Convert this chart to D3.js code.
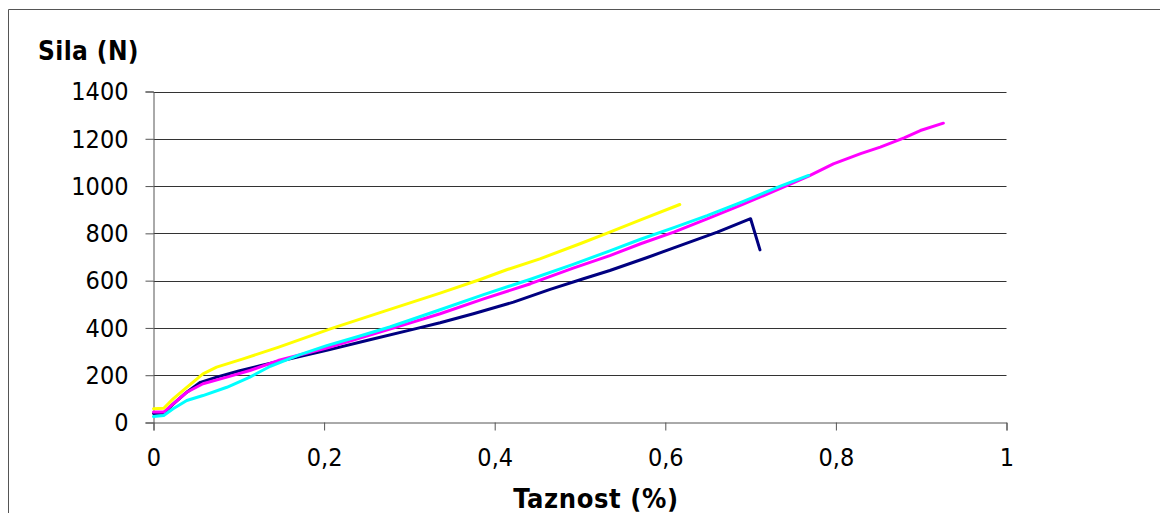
<!DOCTYPE html>
<html>
<head>
<meta charset="utf-8">
<script src="https://cdn.jsdelivr.net/npm/d3@7"></script>
<style>
  html, body { margin: 0; padding: 0; background: #fff; }
  svg { display: block; }
  text { font-family: "DejaVu Sans Condensed", "DejaVu Sans", sans-serif; fill: #000; }
</style>
</head>
<body>
<svg id="chart" width="1160" height="513"></svg>
<script>
// ---- data ----
const xTicks = [0, 0.2, 0.4, 0.6, 0.8, 1];
const xTickLabels = ["0", "0,2", "0,4", "0,6", "0,8", "1"];
const yTicks = [0, 200, 400, 600, 800, 1000, 1200, 1400];
const yTickLabels = ["0", "200", "400", "600", "800", "1000", "1200", "1400"];
const yTitle = "Sila (N)";
const xTitle = "Taznost (%)";

const navyX = [0, 0.012, 0.023, 0.039, 0.055, 0.074, 0.1, 0.125, 0.146, 0.203, 0.25, 0.309, 0.336, 0.375, 0.422, 0.465, 0.504, 0.535, 0.578, 0.618, 0.661, 0.700, 0.711];
const navyY = [38, 40, 78, 128, 170, 192, 218, 240, 258, 305, 347, 398, 422, 460, 509, 563, 608, 643, 697, 749, 805, 862, 730];

const magentaX = [0, 0.012, 0.023, 0.039, 0.058, 0.086, 0.113, 0.146, 0.203, 0.28, 0.336, 0.387, 0.442, 0.492, 0.535, 0.571, 0.61, 0.649, 0.688, 0.735, 0.768, 0.797, 0.829, 0.852, 0.88, 0.899, 0.926];
const magentaY = [44, 44, 79, 128, 164, 192, 220, 262, 315, 398, 460, 523, 587, 653, 706, 756, 805, 861, 918, 990, 1042, 1094, 1137, 1165, 1204, 1235, 1266];

const yellowX = [0, 0.012, 0.023, 0.039, 0.058, 0.074, 0.105, 0.146, 0.209, 0.27, 0.336, 0.383, 0.414, 0.453, 0.5, 0.532, 0.571, 0.617];
const yellowY = [58, 60, 100, 149, 206, 234, 269, 318, 398, 470, 547, 605, 646, 692, 756, 801, 857, 922];

const cyanX = [0, 0.012, 0.023, 0.039, 0.058, 0.086, 0.113, 0.137, 0.17, 0.203, 0.24, 0.277, 0.336, 0.387, 0.442, 0.492, 0.535, 0.571, 0.61, 0.649, 0.688, 0.735, 0.768];
const cyanY = [25, 30, 58, 93, 114, 149, 192, 238, 285, 325, 364, 404, 477, 541, 606, 669, 726, 775, 824, 875, 930, 1000, 1045];

const seriesNames = ["navy", "magenta", "yellow", "cyan"];
const seriesColors = ["#000080", "#FF00FF", "#FFFF00", "#00FFFF"];
const seriesXs = [navyX, magentaX, yellowX, cyanX];
const seriesYs = [navyY, magentaY, yellowY, cyanY];

// ---- layout ----
const svg = d3.select("#chart");
const plot = { left: 153.5, right: 1006.5, top: 91.5, bottom: 422.5 };

const x = d3.scaleLinear().domain([0, 1]).range([plot.left, plot.right]);
const y = d3.scaleLinear().domain([0, 1400]).range([plot.bottom, plot.top]);

// outer frame (only top & left visible in the crop)
svg.append("path")
  .attr("d", "M8.5,600 L8.5,9.5 L1200,9.5")
  .attr("fill", "none").attr("stroke", "#555").attr("stroke-width", 1);

// gridlines
svg.append("g").selectAll("line").data(yTicks.filter(d => d > 0)).join("line")
  .attr("x1", plot.left).attr("x2", plot.right)
  .attr("y1", d => Math.round(y(d)) + 0.5).attr("y2", d => Math.round(y(d)) + 0.5)
  .attr("stroke", "#333").attr("stroke-width", 1);

// y axis
const yAxis = d3.axisLeft(y).tickValues(yTicks)
  .tickFormat((d, i) => yTickLabels[i]).tickSize(8).tickPadding(17);
const gy = svg.append("g").attr("transform", `translate(${plot.left},0)`).call(yAxis);
gy.select(".domain").attr("stroke", "#555");
gy.selectAll(".tick line").attr("stroke", "#555");
gy.selectAll(".tick text").attr("font-size", 25).attr("font-family", null).attr("dy", "0.33em");

// x axis
const xAxis = d3.axisBottom(x).tickValues(xTicks)
  .tickFormat((d, i) => xTickLabels[i]).tickSize(8).tickPadding(18);
const gx = svg.append("g").attr("transform", `translate(0,${plot.bottom})`).call(xAxis);
gx.select(".domain").attr("stroke", "#555");
gx.selectAll(".tick line").attr("stroke", "#555");
gx.selectAll(".tick text").attr("font-size", 25).attr("font-family", null);

// series
const line = d3.line().x(d => x(d[0])).y(d => y(d[1]));
seriesNames.forEach((name, k) => {
  const pts = seriesXs[k].map((v, i) => [v, seriesYs[k][i]]);
  svg.append("path").datum(pts)
    .attr("class", "series " + name)
    .attr("d", line)
    .attr("fill", "none")
    .attr("stroke", seriesColors[k])
    .attr("stroke-width", 3)
    .attr("stroke-linejoin", "round")
    .attr("stroke-linecap", "round");
});

// titles
svg.append("text").attr("x", 38).attr("y", 60)
  .attr("font-size", 26).attr("font-weight", "bold").attr("letter-spacing", 0.4).text(yTitle);
svg.append("text").attr("x", 596).attr("y", 508).attr("text-anchor", "middle")
  .attr("font-size", 27).attr("font-weight", "bold").attr("letter-spacing", 0.6).text(xTitle);
</script>
</body>
</html>
